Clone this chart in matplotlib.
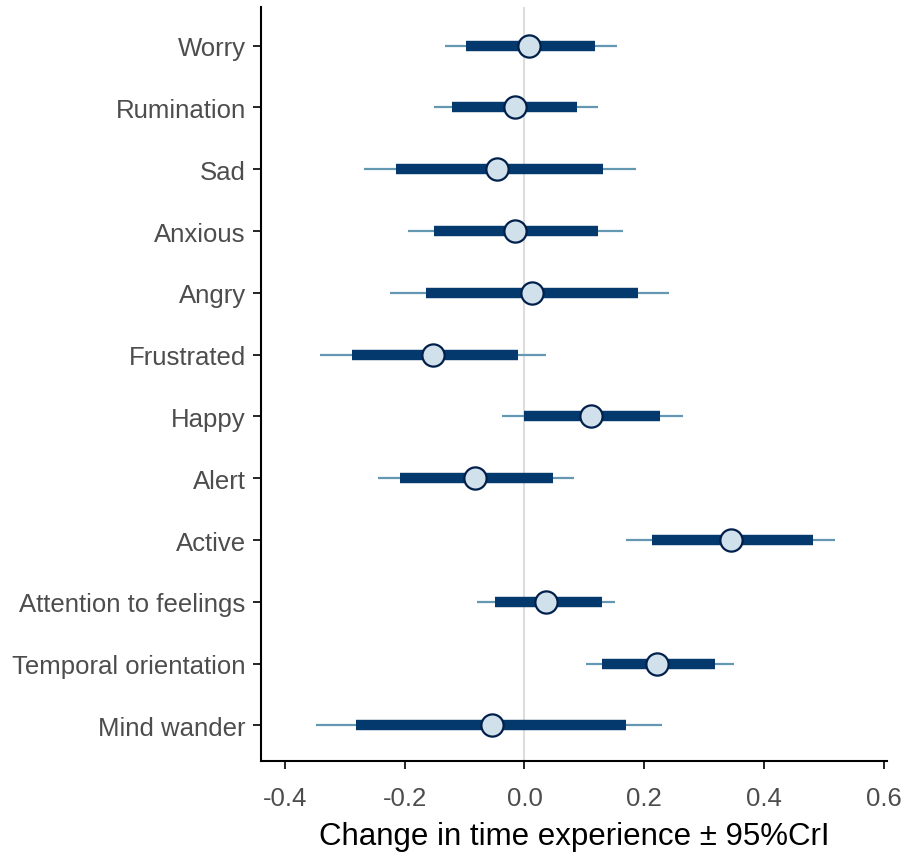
import matplotlib.pyplot as plt

plt.rcParams['font.family'] = ['Liberation Sans', 'DejaVu Sans']

# outcome labels, top to bottom
labels = ['Worry', 'Rumination', 'Sad', 'Anxious', 'Angry', 'Frustrated',
          'Happy', 'Alert', 'Active', 'Attention to feelings',
          'Temporal orientation', 'Mind wander']
# point estimates
est = [0.008, -0.015, -0.046, -0.015, 0.012, -0.153,
       0.111, -0.083, 0.345, 0.036, 0.221, -0.054]
# outer (95%) interval
lo95 = [-0.133, -0.151, -0.268, -0.194, -0.224, -0.341,
        -0.037, -0.244, 0.170, -0.080, 0.103, -0.348]
hi95 = [0.154, 0.123, 0.187, 0.164, 0.241, 0.036,
        0.264, 0.083, 0.519, 0.152, 0.350, 0.230]
# inner interval
lo_in = [-0.097, -0.121, -0.214, -0.151, -0.164, -0.288,
         0.000, -0.208, 0.213, -0.049, 0.129, -0.281]
hi_in = [0.117, 0.087, 0.131, 0.123, 0.190, -0.011,
         0.227, 0.047, 0.482, 0.129, 0.318, 0.169]

n = len(labels)
ypos = list(range(n, 0, -1))

fig = plt.figure(figsize=(9.03, 8.53), dpi=100)
ax = fig.add_axes([0.289, 0.107, 0.693, 0.884])

ax.axvline(0, color='#dddddd', lw=1.5, zorder=0)

for y, e, a, b, c, d in zip(ypos, est, lo95, hi95, lo_in, hi_in):
    ax.plot([a, b], [y, y], color='#6497b1', lw=1.6, solid_capstyle='butt', zorder=1)
    ax.plot([c, d], [y, y], color='#03396c', lw=7.5, solid_capstyle='butt', zorder=2)
    ax.plot(e, y, 'o', ms=16, mfc='#d1e1ec', mec='#011f4b', mew=1.6, zorder=3)

ax.set_xlim(-0.44, 0.605)
ax.set_ylim(0.43, 12.63)
ax.set_xticks([-0.4, -0.2, 0.0, 0.2, 0.4, 0.6])
ax.set_xticklabels(['-0.4', '-0.2', '0.0', '0.2', '0.4', '0.6'])
ax.set_yticks(ypos)
ax.set_yticklabels(labels)

ax.tick_params(axis='both', labelsize=18.5, labelcolor='#4d4d4d', length=6, width=1.2, color='black')
ax.tick_params(axis='x', pad=12)
ax.tick_params(axis='y', pad=5)

for s in ['top', 'right']:
    ax.spines[s].set_visible(False)
for s in ['left', 'bottom']:
    ax.spines[s].set_linewidth(1.5)

ax.set_xlabel('Change in time experience \u00b1 95%CrI', fontsize=22.5, labelpad=8)

plt.savefig('out.png', dpi=100)
